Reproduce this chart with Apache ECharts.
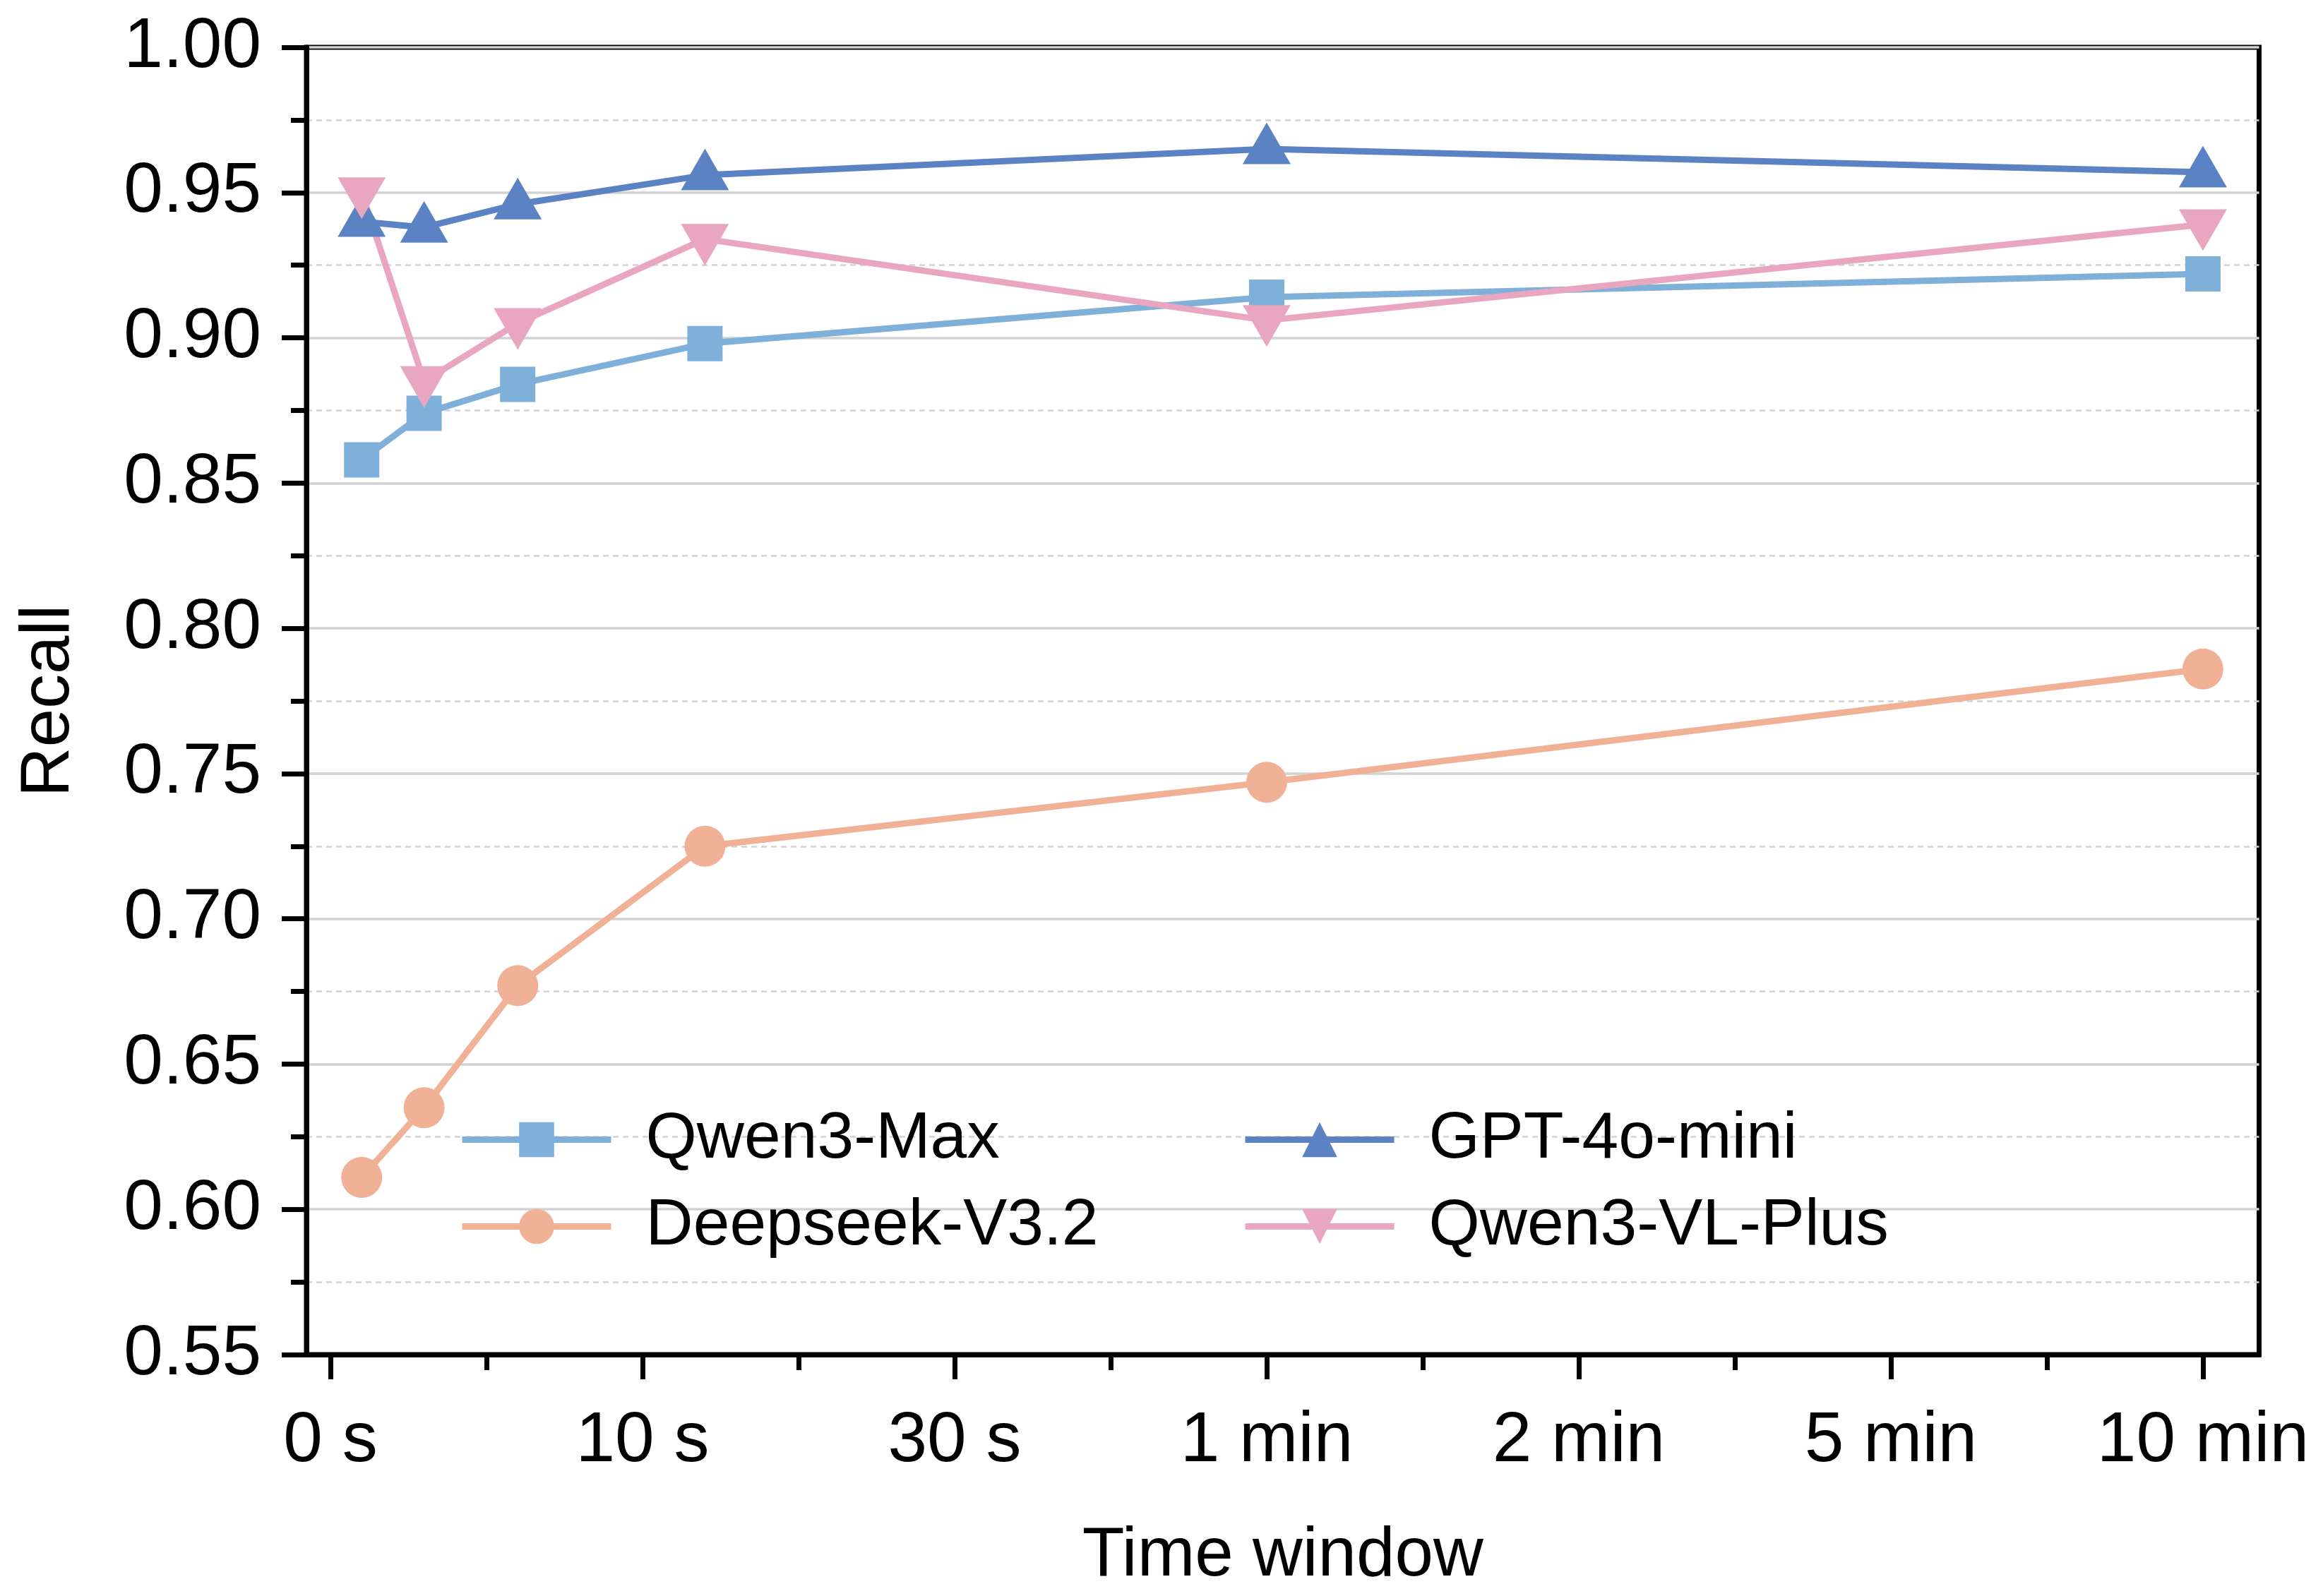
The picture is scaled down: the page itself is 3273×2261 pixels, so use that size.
<!DOCTYPE html>
<html>
<head>
<meta charset="utf-8">
<script src="https://cdn.jsdelivr.net/npm/echarts@6/dist/echarts.min.js"></script>
<style>
html,body{margin:0;padding:0;background:#fff;}
#chart{width:3273px;height:2261px;}
</style>
</head>
<body>
<div id="chart"></div>
<script>
// ---- data ----
const xTickLabels = ['0 s', '10 s', '30 s', '1 min', '2 min', '5 min', '10 min'];
const xPositions = [0.1, 0.3, 0.6, 1.2, 3, 6];
const seriesNames = ['Qwen3-Max', 'Deepseek-V3.2', 'GPT-4o-mini', 'Qwen3-VL-Plus'];
const qwen3Max = [0.858, 0.874, 0.884, 0.898, 0.914, 0.922];
const deepseekV32 = [0.611, 0.635, 0.677, 0.725, 0.747, 0.786];
const gpt4oMini = [0.940, 0.938, 0.946, 0.956, 0.965, 0.957];
const qwen3VLPlus = [0.950, 0.885, 0.905, 0.934, 0.906, 0.939];
const yTicks = { min: 0.55, max: 1.0, interval: 0.05 };

// ---- chart ----
const FONT = "'Liberation Sans', Arial, sans-serif";
const majorX = xTickLabels.map((_, i) => i);
const minorX = xTickLabels.slice(1).map((_, i) => i + 0.5);
const pairs = arr => xPositions.map((x, i) => [x, arr[i]]);
const XMIN = -0.077, XMAX = 6.18;
const LINE_W = 9;

function mk(name, data, color, symbol, size, offset) {
  return {
    name, type: 'line', data: pairs(data),
    xAxisIndex: 0, yAxisIndex: 0,
    symbol, symbolSize: size, symbolOffset: offset || [0, 0],
    showSymbol: true,
    lineStyle: { color: color, width: LINE_W, type: 'solid', opacity: 1 },
    itemStyle: { color: color, borderWidth: 0 },
    emphasis: { disabled: true },
    z: 3
  };
}

const legendText = { fontFamily: FONT, fontSize: 93, lineHeight: 93, color: '#000', padding: [0, 0, 0, 44] };

const chart = echarts.init(document.getElementById('chart'), null, { renderer: 'canvas' });
chart.setOption({
  animation: false,
  backgroundColor: '#ffffff',
  grid: {
    left: 434, top: 67, right: 62, bottom: 342,
    show: true, borderColor: '#000', borderWidth: 7, backgroundColor: 'transparent'
  },
  legend: [
    {
      data: [seriesNames[0], seriesNames[1]],
      orient: 'vertical', left: 650, top: 1568, padding: 0,
      itemWidth: 211, itemHeight: 62, itemGap: 30,
      textStyle: legendText, lineStyle: { width: LINE_W },
      selectedMode: false
    },
    {
      data: [seriesNames[2], seriesNames[3]],
      orient: 'vertical', left: 1759, top: 1568, padding: 0,
      itemWidth: 211, itemHeight: 62, itemGap: 30,
      textStyle: legendText, lineStyle: { width: LINE_W },
      selectedMode: false
    }
  ],
  xAxis: [
    {
      type: 'value', min: XMIN, max: XMAX, position: 'bottom',
      name: 'Time window', nameLocation: 'middle', nameGap: 237,
      nameTextStyle: { fontFamily: FONT, fontSize: 98, lineHeight: 98, color: '#000' },
      axisLine: { show: true, onZero: false, lineStyle: { color: '#000', width: 7 } },
      axisTick: { show: true, customValues: majorX, length: 35, inside: false, lineStyle: { color: '#000', width: 7 } },
      axisLabel: {
        show: true, customValues: majorX, margin: 73,
        fontFamily: FONT, fontSize: 100, lineHeight: 100, color: '#000',
        formatter: v => xTickLabels[Math.round(v)]
      },
      splitLine: { show: false }
    },
    {
      type: 'value', min: XMIN, max: XMAX, position: 'bottom',
      axisLine: { show: false, onZero: false },
      axisTick: { show: true, customValues: minorX, length: 22, inside: false, lineStyle: { color: '#000', width: 7 } },
      axisLabel: { show: false },
      splitLine: { show: false }
    }
  ],
  yAxis: {
    type: 'value', min: yTicks.min, max: yTicks.max, interval: yTicks.interval,
    name: 'Recall', nameLocation: 'middle', nameGap: 315, nameRotate: 90,
    nameTextStyle: { fontFamily: FONT, fontSize: 98, lineHeight: 98, color: '#000' },
    axisLine: { show: true, onZero: false, lineStyle: { color: '#000', width: 7 } },
    axisTick: { show: true, length: 35, inside: false, lineStyle: { color: '#000', width: 7 } },
    minorTick: { show: true, splitNumber: 2, length: 22, lineStyle: { color: '#000', width: 7 } },
    axisLabel: {
      margin: 64, fontFamily: FONT, fontSize: 100, lineHeight: 100, color: '#000',
      formatter: v => v.toFixed(2)
    },
    splitLine: { show: true, lineStyle: { color: '#d2d2d2', width: 3.5, type: 'solid' } },
    minorSplitLine: { show: true, lineStyle: { color: '#d2d2d2', width: 2.5, type: [8, 6] } }
  },
  series: [
    mk(seriesNames[0], qwen3Max, '#7fb0da', 'rect', 50),
    mk(seriesNames[1], deepseekV32, '#f0b196', 'circle', 58),
    mk(seriesNames[2], gpt4oMini, '#5b83c3', 'triangle', [68, 59], [0, -8]),
    mk(seriesNames[3], qwen3VLPlus, '#e9a6c1', 'path://M0,0 L2,0 L1,1.73 Z', [68, 59], [0, 8])
  ]
});
</script>
</body>
</html>
